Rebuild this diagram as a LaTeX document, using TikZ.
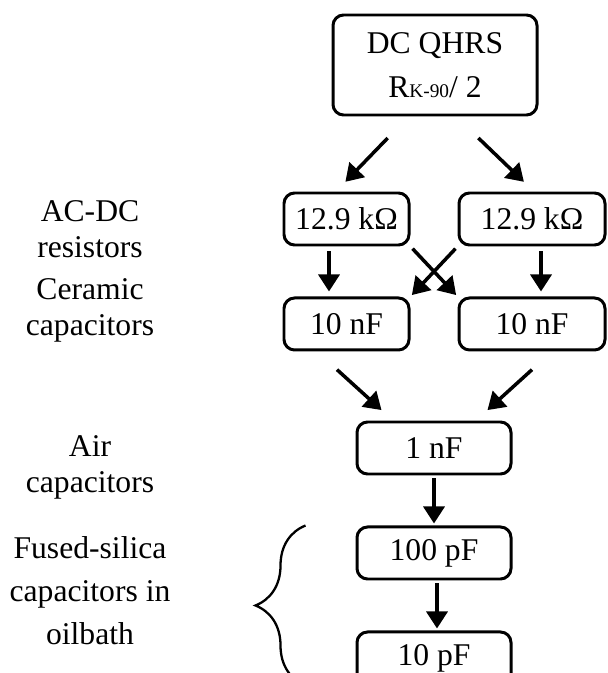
\documentclass[tikz,border=0pt]{standalone}
\usepackage{fontspec}
\setmainfont{Liberation Serif}
\usetikzlibrary{arrows.meta,positioning,calc,decorations.pathreplacing}

\begin{document}
\begin{tikzpicture}[
  box/.style={draw, line width=1.7pt, rounded corners=6pt, minimum height=1.04cm,
              inner sep=0pt, font=\fontsize{18}{22}\selectfont},
  lbl/.style={align=center, font=\fontsize{18}{20.5}\selectfont},
  arr/.style={-{Triangle[length=3.4mm,width=4.2mm]}, line width=2pt},
  node distance=1cm]
\useasboundingbox (0,0) rectangle (12.14,-13.46);
\clip (0,0) rectangle (12.14,-13.46);

% standard and the transfer chain
\node[box, minimum width=4.08cm, minimum height=2cm, align=center,
      font=\fontsize{18}{25}\selectfont] (qhrs) at (8.70,-1.30)
      {DC QHRS\\R{\fontsize{11}{11}\selectfont K-90}/ 2};
\node[box, minimum width=2.5cm] (res1) at (6.93,-4.38) {12.9 kΩ};
\node[box, minimum width=2.92cm] (res2) at (10.64,-4.38) {12.9 kΩ};
\node[box, minimum width=2.5cm, below=of res1] (cer1) {10 nF};
\node[box, minimum width=2.92cm, below=of res2] (cer2) {10 nF};
\node[box, minimum width=3.08cm] (air) at (8.68,-8.96) {1 nF};
\node[box, minimum width=3.08cm, below=of air] (fs1) {100 pF};
\node[box, minimum width=3.08cm, below=of fs1] (fs2) {10 pF};

\draw[arr, shorten <=0.6cm, shorten >=0.27cm] ([xshift=-0.53cm]qhrs.south) -- ([xshift=-0.21cm]res1.north);
\draw[arr, shorten <=0.62cm, shorten >=0.28cm] ([xshift=0.42cm]qhrs.south) -- ([xshift=0.04cm]res2.north);
\draw[arr, shorten <=0.1cm, shorten >=0.1cm] ([xshift=-0.35cm]res1.south) -- ([xshift=-0.35cm]cer1.north);
\draw[arr, shorten <=0.1cm, shorten >=0.1cm] ([xshift=0.18cm]res2.south) -- ([xshift=0.18cm]cer2.north);
\draw[arr, shorten <=0.06cm, shorten >=0.04cm] (res1.south east) -- (cer2.north west);
\draw[arr, shorten <=0.06cm, shorten >=0.04cm] (res2.south west) -- (cer1.north east);
\draw[arr, shorten <=0.54cm, shorten >=0.31cm] ([xshift=-0.59cm]cer1.south) -- ([xshift=-0.82cm]air.north);
\draw[arr, shorten <=0.54cm, shorten >=0.31cm] ([xshift=0.4cm]cer2.south) -- ([xshift=0.84cm]air.north);
\draw[arr, shorten <=0.06cm, shorten >=0.04cm] (air) -- (fs1);
\draw[arr, shorten <=0.06cm, shorten >=0.04cm] ([xshift=0.06cm]fs1.south) -- ([xshift=0.06cm]fs2.north);

\draw[line width=1.3pt, decorate, decoration={brace, amplitude=1cm}]
  ([xshift=-1cm]fs2.south west) -- ([xshift=-1cm]fs1.north west);

% stage names
\node[lbl] (acdc) at (1.8,-4.58) {AC-DC\\resistors};
\node[lbl] (cer) at (1.8,-6.2) {Ceramic\\capacitors};
\node[lbl] (aircap) at (1.8,-9.34) {Air\\capacitors};
\node[lbl, font=\fontsize{18}{24.5}\selectfont] (fused) at (1.8,-11.82) {Fused-silica\\capacitors in\\oilbath};
\end{tikzpicture}
\end{document}
